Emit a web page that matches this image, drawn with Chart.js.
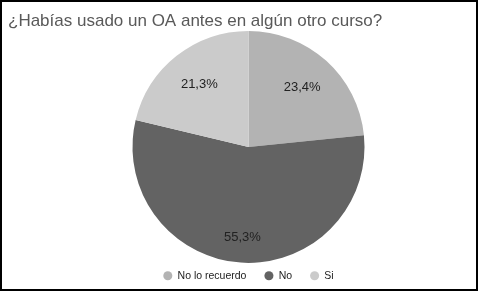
<!DOCTYPE html>
<html>
<head>
<meta charset="utf-8">
<script src="https://cdn.jsdelivr.net/npm/chart.js@4.4.1/dist/chart.umd.min.js"></script>
<style>
  html, body { margin: 0; padding: 0; background: #fff; }
  #frame {
    position: absolute; left: 0; top: 0;
    width: 478px; height: 291px;
    box-sizing: border-box;
    border: 2px solid #000;
    background: #fff;
  }
  canvas { display: block; }
</style>
</head>
<body>
<div id="frame"><canvas id="chart" width="474" height="287"></canvas></div>
<script>
const chartTitle = '¿Habías usado un OA antes en algún otro curso?';
const categories = ['No lo recuerdo', 'No', 'Si'];
const responses = [11, 26, 10];   // 47 answers
const sliceColors = ['#b3b3b3', '#636363', '#cbcbcb'];

const FONT = '"Liberation Sans", Arial, sans-serif';
const total = responses.reduce((a, b) => a + b, 0);
const pct = v => (v / total * 100).toFixed(1).replace('.', ',') + '%';

// title (left aligned) + percentage labels inside the slices
const pieText = {
    id: 'pieText',
    afterDraw(chart) {
        const ctx = chart.ctx;
        ctx.save();
        ctx.font = '17px ' + FONT;
        ctx.fillStyle = '#595959';
        ctx.textAlign = 'left';
        ctx.textBaseline = 'alphabetic';
        ctx.fillText(chartTitle, 6, 23.5);

        ctx.font = '13px ' + FONT;
        ctx.fillStyle = '#222';
        ctx.textAlign = 'center';
        ctx.textBaseline = 'middle';
        chart.getDatasetMeta(0).data.forEach((arc, i) => {
            const p = arc.getProps(['x', 'y', 'startAngle', 'endAngle', 'outerRadius'], true);
            const mid = (p.startAngle + p.endAngle) / 2;
            const d = p.outerRadius * (0.62 + 0.3 * responses[i] / total);
            ctx.fillText(pct(responses[i]), p.x + Math.cos(mid) * d, p.y + Math.sin(mid) * d);
        });
        ctx.restore();
    }
};

new Chart(document.getElementById('chart'), {
    type: 'pie',
    data: {
        labels: categories,
        datasets: [{
            data: responses,
            backgroundColor: sliceColors,
            borderWidth: 0,
            clip: false
        }]
    },
    options: {
        responsive: false,
        animation: false,
        events: [],
        radius: 116,
        layout: { padding: { top: 39.25, left: 19, right: 0, bottom: -2 } },
        plugins: {
            title: { display: false },
            tooltip: { enabled: false },
            legend: {
                position: 'bottom',
                labels: {
                    usePointStyle: true,
                    pointStyle: 'circle',
                    boxWidth: 9,
                    boxHeight: 6.4,
                    padding: 18,
                    color: '#222',
                    font: { family: FONT, size: 10.5 }
                }
            }
        }
    },
    plugins: [pieText]
});
</script>
</body>
</html>
